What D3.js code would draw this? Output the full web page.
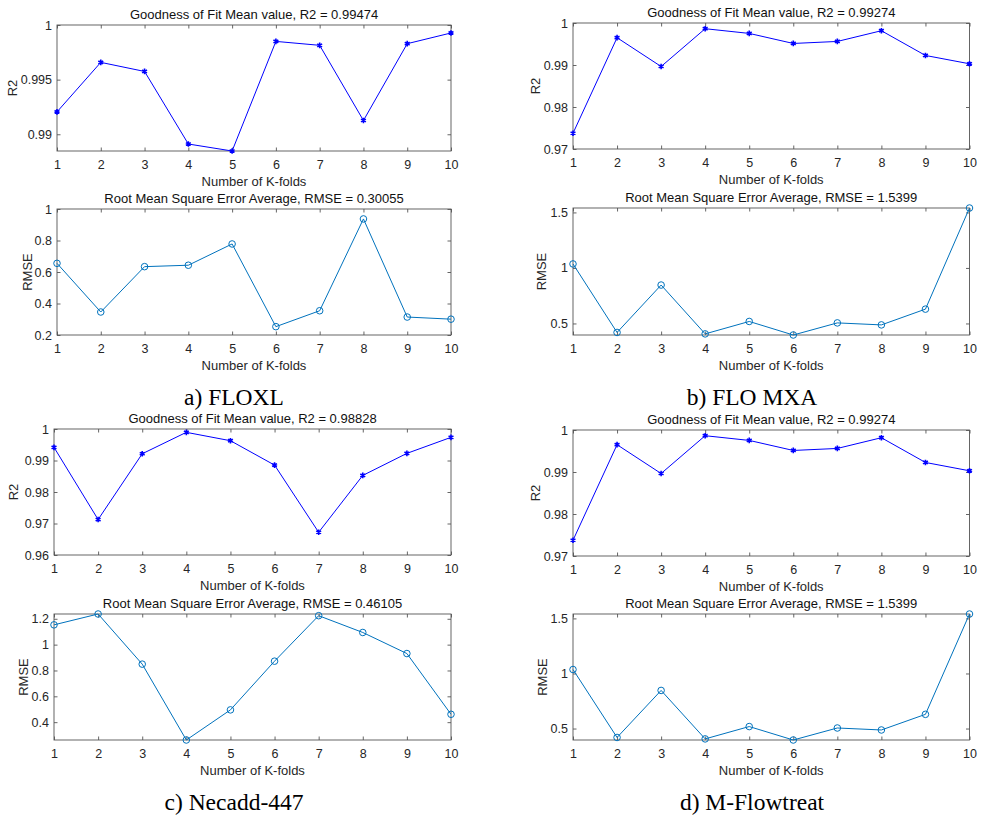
<!DOCTYPE html>
<html>
<head>
<meta charset="utf-8">
<script src="https://cdn.jsdelivr.net/npm/d3@7"></script>
<style>
  body { margin: 0; background: #fff; }
  text { font-family: "Liberation Sans", Arial, sans-serif; }
</style>
</head>
<body>
<div class="chart"></div>
<script>
// folds on the x axis
const folds = [1, 2, 3, 4, 5, 6, 7, 8, 9, 10];

// a) FLOXL
const r2Floxl   = [0.99205, 0.99658, 0.99575, 0.98911, 0.98847, 0.9985, 0.99814, 0.99126, 0.99829, 0.99927];
const rmseFloxl = [0.655, 0.346, 0.634, 0.643, 0.778, 0.253, 0.354, 0.937, 0.314, 0.30055];
// b) FLO MXA
const r2Mxa   = [0.97375, 0.9965, 0.98964, 0.99864, 0.99752, 0.99513, 0.99561, 0.99816, 0.99227, 0.99029];
const rmseMxa = [1.036, 0.419, 0.846, 0.406, 0.518, 0.396, 0.505, 0.487, 0.629, 1.5399];
// c) Necadd-447
const r2Necadd   = [0.99417, 0.97126, 0.99214, 0.99894, 0.99628, 0.98854, 0.96722, 0.98526, 0.99226, 0.99735];
const rmseNecadd = [1.153, 1.237, 0.849, 0.262, 0.495, 0.872, 1.224, 1.094, 0.931, 0.46105];
// d) M-Flowtreat
const r2Flowtreat   = [0.97375, 0.9965, 0.98964, 0.99864, 0.99752, 0.99513, 0.99561, 0.99816, 0.99227, 0.99029];
const rmseFlowtreat = [1.036, 0.419, 0.846, 0.406, 0.518, 0.396, 0.505, 0.487, 0.629, 1.5399];

// mean R2 / RMSE shown in titles
const r2Means   = ["0.99474", "0.99274", "0.98828", "0.99274"];
const rmseShown = ["0.30055", "1.5399", "0.46105", "1.5399"];
const captions  = ["a) FLOXL", "b) FLO MXA", "c) Necadd-447", "d) M-Flowtreat"];

// y tick values per panel
const ticksR2a = [0.99, 0.995, 1];
const ticksR2b = [0.97, 0.98, 0.99, 1];
const ticksR2c = [0.96, 0.97, 0.98, 0.99, 1];
const ticksRmseA = [0.2, 0.4, 0.6, 0.8, 1];
const ticksRmseB = [0.5, 1, 1.5];
const ticksRmseC = [0.4, 0.6, 0.8, 1, 1.2];

const W = 981, H = 817;
const svg = d3.select(".chart").append("svg")
  .attr("width", W).attr("height", H);

const axisCol = "#555";
const textCol = "#262626";

const panels = [
  // left column
  {x0: 57, x1: 451, y0: 25, y1: 151, data: r2Floxl, dom: [d3.min(r2Floxl), 1], ticks: ticksR2a,
   title: `Goodness of Fit Mean value, R2 = ${r2Means[0]}`, ylab: "R2", ylabX: -40, kind: "r2"},
  {x0: 57, x1: 451, y0: 209, y1: 335, data: rmseFloxl, dom: [0.2, 1], ticks: ticksRmseA,
   title: `Root Mean Square Error Average, RMSE = ${rmseShown[0]}`, ylab: "RMSE", ylabX: -25, kind: "rmse"},
  {x0: 54, x1: 451, y0: 429, y1: 555, data: r2Necadd, dom: [0.96, 1], ticks: ticksR2c,
   title: `Goodness of Fit Mean value, R2 = ${r2Means[2]}`, ylab: "R2", ylabX: -36, kind: "r2"},
  {x0: 54, x1: 451, y0: 614, y1: 740, data: rmseNecadd, dom: d3.extent(rmseNecadd), ticks: ticksRmseC,
   title: `Root Mean Square Error Average, RMSE = ${rmseShown[2]}`, ylab: "RMSE", ylabX: -26, kind: "rmse"},
  // right column
  {x0: 573, x1: 969.5, y0: 23, y1: 149, data: r2Mxa, dom: [0.97, 1], ticks: ticksR2b,
   title: `Goodness of Fit Mean value, R2 = ${r2Means[1]}`, ylab: "R2", ylabX: -33, kind: "r2"},
  {x0: 573, x1: 969.5, y0: 208, y1: 335, data: rmseMxa, dom: d3.extent(rmseMxa), ticks: ticksRmseB,
   title: `Root Mean Square Error Average, RMSE = ${rmseShown[1]}`, ylab: "RMSE", ylabX: -27, kind: "rmse"},
  {x0: 573, x1: 969.5, y0: 430, y1: 556, data: r2Flowtreat, dom: [0.97, 1], ticks: ticksR2b,
   title: `Goodness of Fit Mean value, R2 = ${r2Means[3]}`, ylab: "R2", ylabX: -33, kind: "r2"},
  {x0: 573, x1: 969.5, y0: 614, y1: 740, data: rmseFlowtreat, dom: d3.extent(rmseFlowtreat), ticks: ticksRmseB,
   title: `Root Mean Square Error Average, RMSE = ${rmseShown[3]}`, ylab: "RMSE", ylabX: -26, kind: "rmse"}
];

panels.forEach(p => {
  const x = d3.scaleLinear().domain([1, 10]).range([p.x0, p.x1]);
  const y = d3.scaleLinear().domain(p.dom).range([p.y1, p.y0]);
  const g = svg.append("g");
  const tickLen = 3.5;

  // box
  g.append("rect")
    .attr("x", p.x0).attr("y", p.y0)
    .attr("width", p.x1 - p.x0).attr("height", p.y1 - p.y0)
    .attr("fill", "#fff").attr("stroke", axisCol).attr("stroke-width", 0.9);

  // x axis (inward ticks, mirrored at top)
  const xb = g.append("g").attr("transform", `translate(0,${p.y1})`)
    .call(d3.axisBottom(x).tickValues(folds).tickSize(-tickLen).tickPadding(9).tickFormat(d3.format("d")));
  const xt = g.append("g").attr("transform", `translate(0,${p.y0})`)
    .call(d3.axisTop(x).tickValues(folds).tickSize(-tickLen).tickFormat(""));
  // y axis
  const yl = g.append("g").attr("transform", `translate(${p.x0},0)`)
    .call(d3.axisLeft(y).tickValues(p.ticks).tickSize(-tickLen).tickPadding(5).tickFormat(d => String(d)));
  const yr = g.append("g").attr("transform", `translate(${p.x1},0)`)
    .call(d3.axisRight(y).tickValues(p.ticks).tickSize(-tickLen).tickFormat(""));

  [xb, xt, yl, yr].forEach(a => {
    a.select(".domain").remove();
    a.selectAll(".tick line").attr("stroke", axisCol).attr("stroke-width", 0.9);
    a.selectAll(".tick text").attr("fill", textCol).style("font-size", "12.5px")
      .style("font-family", '"Liberation Sans", Arial, sans-serif');
  });

  // title
  g.append("text")
    .attr("x", (p.x0 + p.x1) / 2).attr("y", p.y0 - 6)
    .attr("text-anchor", "middle").attr("fill", "#111")
    .style("font-size", "13px").text(p.title);

  // x label
  g.append("text")
    .attr("x", (p.x0 + p.x1) / 2).attr("y", p.y1 + 35)
    .attr("text-anchor", "middle").attr("fill", textCol)
    .style("font-size", "13px").text("Number of K-folds");

  // y label
  g.append("text")
    .attr("transform", `translate(${p.x0 + p.ylabX},${(p.y0 + p.y1) / 2}) rotate(-90)`)
    .attr("text-anchor", "middle").attr("fill", textCol)
    .style("font-size", "13px").text(p.ylab);

  const col = p.kind === "r2" ? "#0000ff" : "#0072bd";
  const pts = folds.map((f, i) => ({f: f, v: p.data[i]}));
  const line = d3.line().x(d => x(d.f)).y(d => y(d.v));

  g.append("path").datum(pts)
    .attr("fill", "none").attr("stroke", col).attr("stroke-width", 1)
    .attr("d", line);

  const sym = p.kind === "r2"
    ? d3.symbol().type(d3.symbolAsterisk).size(22)
    : d3.symbol().type(d3.symbolCircle).size(34);

  g.selectAll(".mk").data(pts).join("path")
    .attr("transform", d => `translate(${x(d.f)},${y(d.v)})`)
    .attr("d", sym)
    .attr("fill", "none").attr("stroke", col)
    .attr("stroke-width", p.kind === "r2" ? 1.6 : 1);
});

// captions under each pair
const capPos = [[234, 405], [752, 405], [234, 810], [752, 810]];
svg.selectAll(".cap").data(captions).join("text")
  .attr("x", (d, i) => capPos[i][0]).attr("y", (d, i) => capPos[i][1])
  .attr("text-anchor", "middle").attr("fill", "#000")
  .style("font-family", '"Liberation Serif", "Times New Roman", serif')
  .style("font-size", "23.5px")
  .text(d => d);
</script>
</body>
</html>
